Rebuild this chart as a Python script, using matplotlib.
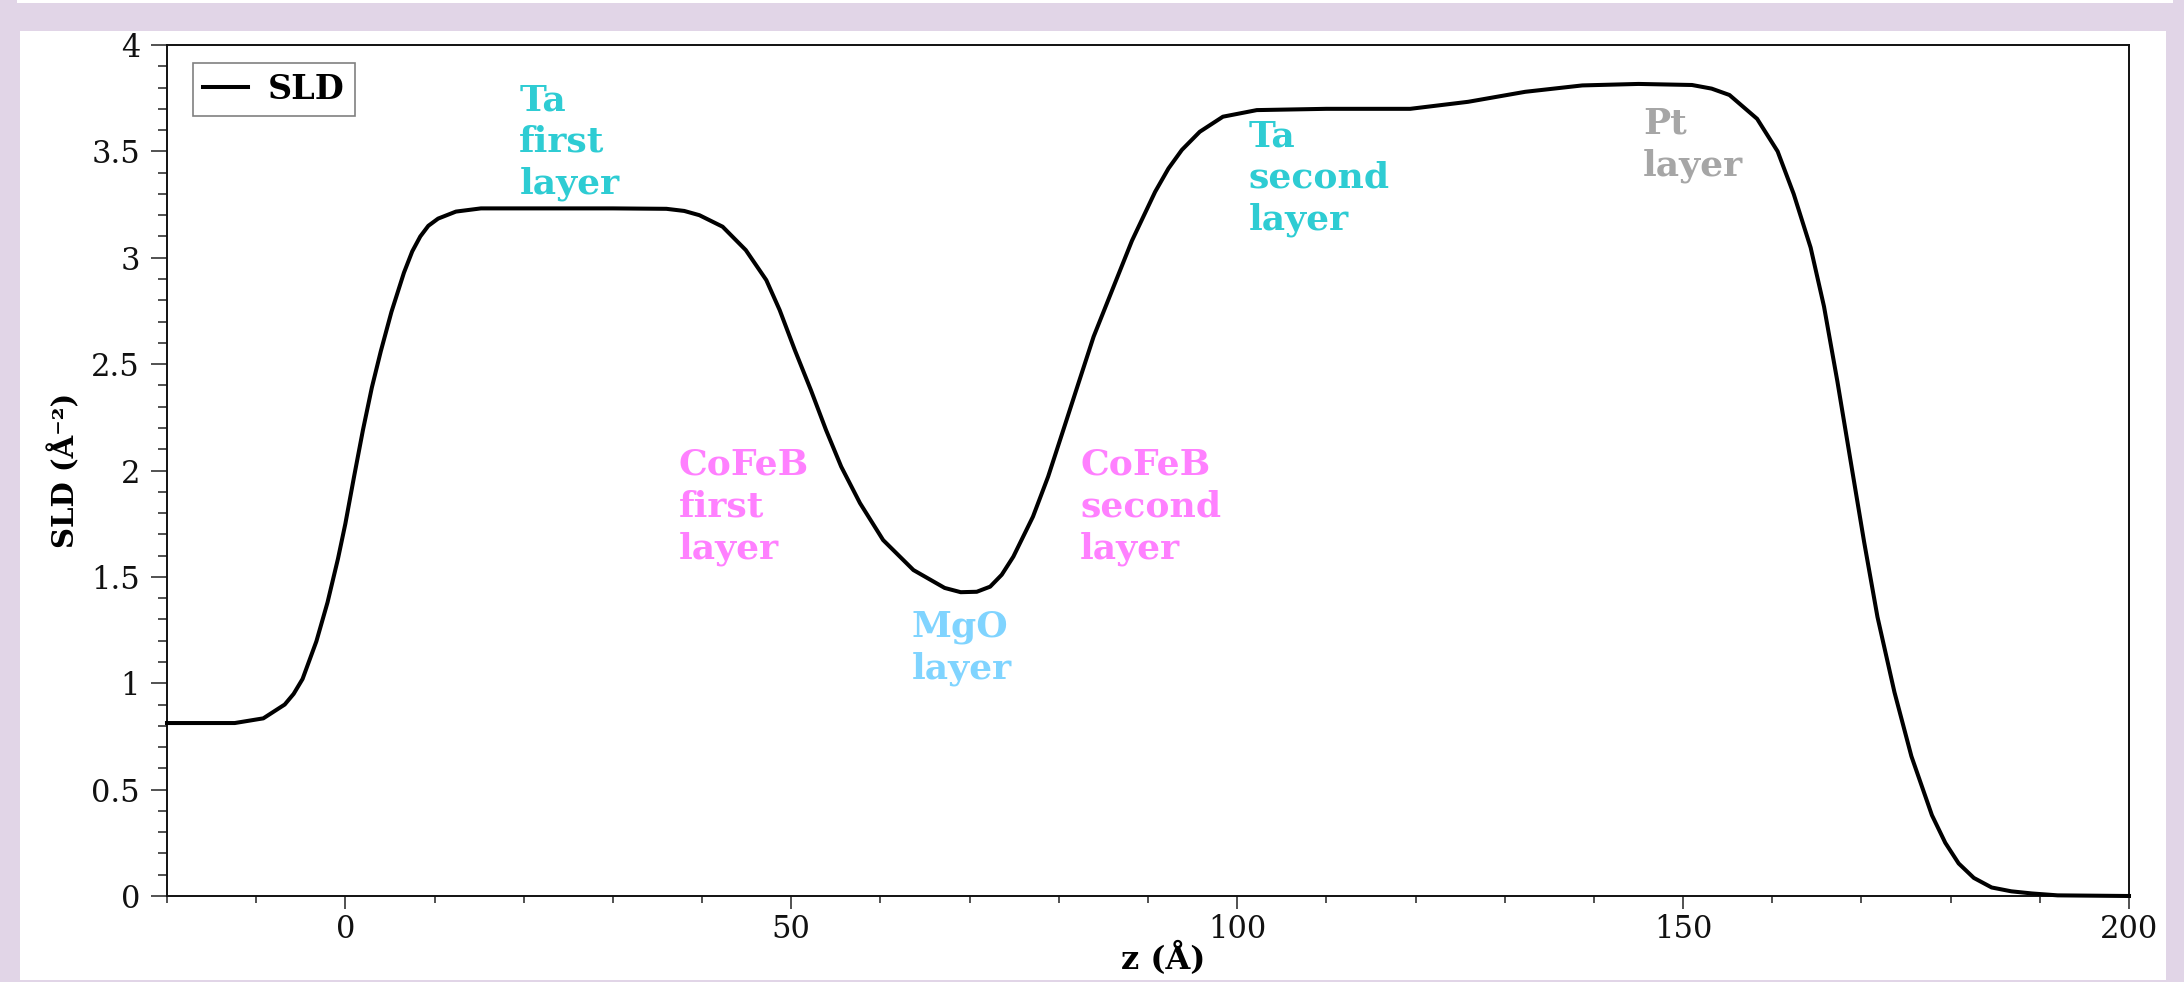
import numpy as np
import matplotlib
matplotlib.use('Agg')
import matplotlib.pyplot as plt
from matplotlib.patches import Rectangle
from matplotlib.ticker import MultipleLocator, FuncFormatter

plt.rcParams['font.family'] = 'DejaVu Serif'

# SLD profile
z = [-20, -12.4, -9.2, -6.8, -5.8, -4.8, -3.25, -2.0, -0.83, 0.0, 0.97, 1.97, 2.97, 3.97,
     5.17, 6.57, 7.5, 8.4, 9.3, 10.4, 12.4, 15.2, 22, 30, 36, 38, 39.7, 42.3, 44.9, 47.2,
     48.7, 50.4, 52.2, 53.9, 55.6, 57.7, 60.3, 63.7, 67.2, 69.0, 70.8, 72.3, 73.6,
     74.9, 77.1, 78.8, 80.5, 82.2, 83.9, 86.1, 88.2, 90.8, 92.3, 93.8, 95.8, 98.4, 102.2,
     110, 119.4, 125.9, 132.3, 138.7, 145, 151, 153.2, 155.2, 158.3, 160.6, 162.4,
     164.3, 165.8, 167.3, 168.8, 170.3, 171.8, 173.7, 175.6, 177.9, 179.4, 180.9, 182.6,
     184.6, 186.8, 189.1, 192, 200]
sld = [0.813, 0.813, 0.835, 0.90, 0.95, 1.02, 1.197, 1.38, 1.585, 1.75, 1.97, 2.19, 2.39, 2.56,
       2.746, 2.93, 3.03, 3.10, 3.15, 3.184, 3.217, 3.232, 3.232, 3.232, 3.23, 3.22, 3.20, 3.146,
       3.036, 2.895, 2.754, 2.566, 2.378, 2.19, 2.018, 1.847, 1.673, 1.532, 1.448, 1.428, 1.43,
       1.454, 1.51, 1.595, 1.783, 1.971, 2.19, 2.41, 2.629, 2.86, 3.08, 3.31, 3.42, 3.507, 3.592,
       3.663, 3.694, 3.70, 3.70, 3.733, 3.78, 3.81, 3.817, 3.812, 3.795, 3.765, 3.653, 3.50, 3.30,
       3.048, 2.771, 2.419, 2.041, 1.664, 1.311, 0.958, 0.657, 0.38, 0.25, 0.153, 0.085,
       0.04, 0.022, 0.012, 0.003, 0.0]

# layer labels: text, x, y (top), colour
labels = ['Ta\nfirst\nlayer', 'CoFeB\nfirst\nlayer', 'MgO\nlayer',
          'CoFeB\nsecond\nlayer', 'Ta\nsecond\nlayer', 'Pt\nlayer']
label_x = [19.5, 37.4, 63.5, 82.4, 101.3, 145.5]
label_y = [3.821, 2.106, 1.344, 2.106, 3.652, 3.709]
label_colors = ['#2ECCD3', '#FF80FF', '#80D4FF', '#FF80FF', '#2ECCD3', '#A6A6A6']

fig = plt.figure(figsize=(21.84, 9.82), dpi=100)
fig.patch.set_facecolor('#E1D5E7')
W, H = 2184.0, 982.0
fig.patches.append(Rectangle((20 / W, 2 / H), 2146 / W, 949 / H, transform=fig.transFigure,
                             facecolor='white', edgecolor='none', zorder=-10))
fig.patches.append(Rectangle((17 / W, 979 / H), 2156 / W, 3 / H, transform=fig.transFigure,
                             facecolor='white', edgecolor='none', zorder=-10))

ax = fig.add_axes([167 / W, 1 - 896 / H, 1962 / W, 851 / H])
ax.set_facecolor('white')

ax.plot(z, sld, color='black', lw=2.9, label='SLD', clip_on=False, zorder=3,
        solid_joinstyle='round')

for t, x, y, c in zip(labels, label_x, label_y, label_colors):
    ax.text(x, y, t, color=c, fontsize=26, fontweight='bold', ha='left', va='top',
            linespacing=1.28)

ax.set_xlim(-20, 200)
ax.set_ylim(0, 4)
ax.xaxis.set_major_locator(MultipleLocator(50))
ax.xaxis.set_minor_locator(MultipleLocator(10))
ax.yaxis.set_major_locator(MultipleLocator(0.5))
ax.yaxis.set_minor_locator(MultipleLocator(0.1))
ax.yaxis.set_major_formatter(FuncFormatter(lambda v, p: '%g' % v))

ax.tick_params(axis='x', which='major', direction='out', length=9.4, width=1.1,
               labelsize=22, pad=3.5, colors='#222222')
ax.tick_params(axis='x', which='minor', direction='out', length=5.2, width=1.1, colors='#222222')
ax.tick_params(axis='y', which='major', direction='out', length=11.5, width=1.1,
               labelsize=22, pad=8, colors='#222222')
ax.tick_params(axis='y', which='minor', direction='out', length=6.7, width=1.1, colors='#222222')
ax.tick_params(labelcolor='#111111')

for s in ax.spines.values():
    s.set_linewidth(1.4)
    s.set_color('#111111')

ax.set_xlabel('z (Å)', fontsize=23, fontweight='bold')
ax.xaxis.set_label_coords(0.5076, -0.054)
ax.set_ylabel('SLD (Å⁻²)', fontsize=21, fontweight='bold')
ax.yaxis.set_label_coords(-0.044, 0.5)

leg = ax.legend(loc='upper left', bbox_to_anchor=(0.0133, 0.9788), borderaxespad=0,
                prop={'weight': 'bold', 'size': 24}, handlelength=1.35,
                handletextpad=0.6, borderpad=0.3, fancybox=False, framealpha=1)
leg.get_frame().set_edgecolor('#808080')
leg.get_frame().set_linewidth(1.2)

plt.savefig('out.png', dpi=100, facecolor=fig.get_facecolor())
